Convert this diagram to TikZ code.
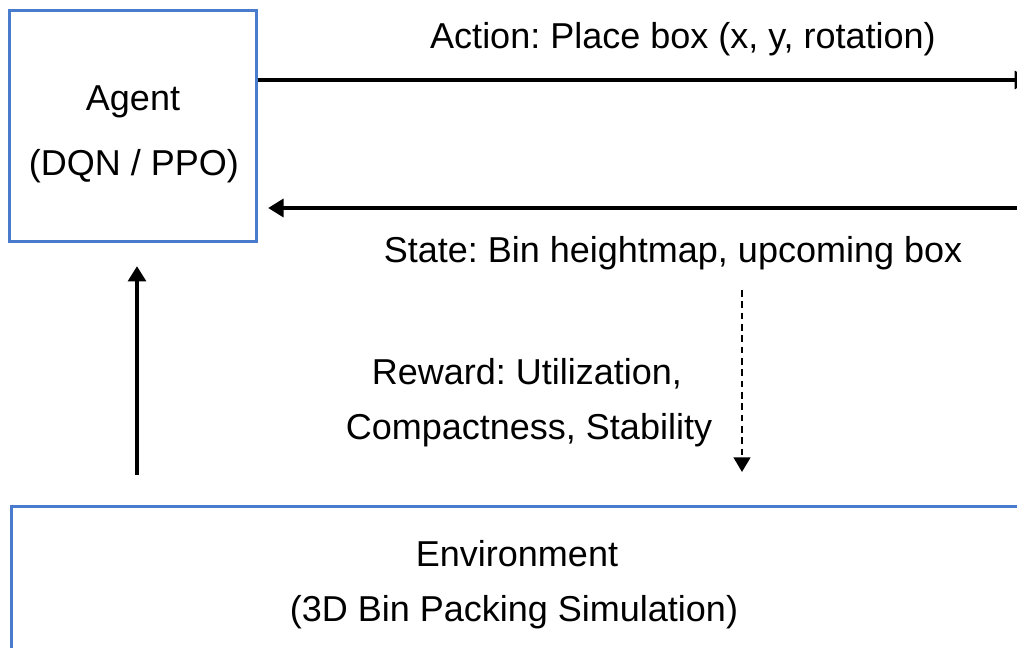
\documentclass[tikz,border=0pt]{standalone}
\usepackage{fontspec}
\setmainfont{Liberation Sans}
\usetikzlibrary{arrows.meta}

\definecolor{boxblue}{RGB}{74,124,206}

\begin{document}
\frenchspacing
\begin{tikzpicture}[
    x=0.75pt, y=-0.75pt,
    blockbox/.style={draw=boxblue, line width=2.25pt, fill=white, inner sep=0pt},
    lbl/.style={anchor=base, inner sep=0pt, font=\fontsize{27}{32}\selectfont},
    flow/.style={draw=black, line width=2.5pt, -{Triangle[width=13.5pt,length=11.5pt]}},
    rewardflow/.style={draw=black, line width=1.9pt, dash pattern=on 5pt off 3.5pt,
                       -{Triangle[width=12.5pt,length=11pt]}}
]
\useasboundingbox (0,0) rectangle (1017,648);
\clip (0,0) rectangle (1017,648);

% the two blocks
\node[blockbox, minimum width=247*0.75pt, minimum height=231*0.75pt] (agent) at (132.5,126.5) {};
\node[blockbox, anchor=north west, minimum width=1030*0.75pt, minimum height=170*0.75pt] (env) at (10,505) {};

% block labels
\node[lbl] (agentname) at (133,111) {Agent};
\node[lbl] (agentalgo) at (134,176) {(DQN / PPO)};
\node[lbl] (envname) at (517,566) {Environment};
\node[lbl] (envsim) at (514,621) {(3D Bin Packing Simulation)};

% connector labels
\node[lbl] (actionlbl) at (683,49) {Action: Place box (x, y, rotation)};
\node[lbl] (statelbl) at (673,263) {State: Bin heightmap, upcoming box};
\node[lbl] (rewardA) at (527,385) {Reward: Utilization,};
\node[lbl] (rewardB) at (529,439) {Compactness, Stability};

% connector end points
\coordinate (actend) at (1030,80);
\coordinate (statebeg) at (1035,208);
\coordinate (upx) at (137,0);
\coordinate (rewtop) at (742,290);
\coordinate (rewbot) at (742,472);

% connectors
\draw[flow] (agent.east |- actend) -- (actend);
\draw[flow, shorten >=8pt] (statebeg) -- (agent.east |- statebeg);
\draw[flow, shorten <=22.5pt, shorten >=17pt] (env.north -| upx) -- (agent.south -| upx);
\draw[rewardflow] (rewtop) -- (rewbot);
\end{tikzpicture}
\end{document}
